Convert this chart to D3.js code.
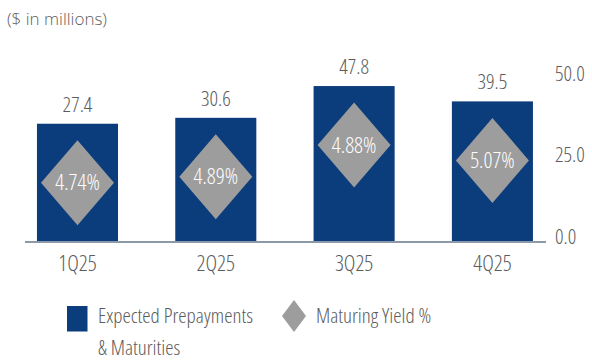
<!DOCTYPE html>
<html>
<head>
<meta charset="utf-8">
<script src="https://cdn.jsdelivr.net/npm/d3@7"></script>
<style>
  html, body { margin: 0; padding: 0; background: #fff; }
  svg { display: block; }
  text { font-family: "Open Sans", sans-serif; font-stretch: 80%; font-weight: 300; }
  text.wide { font-stretch: 100%; }
</style>
</head>
<body>
<svg id="chart" width="592" height="360"></svg>
<script>
// ---- data ----
const categories = ["1Q25", "2Q25", "3Q25", "4Q25"];
const prepayments = [27.4, 30.6, 47.8, 39.5];          // $ in millions
const yieldPct = [4.74, 4.89, 4.88, 5.07];             // maturing yield %
const axisTicks = [0, 25, 50];
const unitsLabel = "($ in millions)";
const legendLabels = [["Expected Prepayments", "& Maturities"], ["Maturing Yield %"]];

// ---- styles ----
const barColor = "#0b3c7b";
const diamondColor = "#9d9d9d";
const textColor = "#5c5c5c";

const svg = d3.select("#chart");

const x = d3.scaleBand()
  .domain(categories)
  .range([9.3, 560.6])
  .paddingInner(0.414)
  .paddingOuter(0.2);

// bar scale (the reference bars are drawn on a truncated value scale)
const yBar = d3.scaleLinear().domain([-36.5, 50]).range([241.7, 82.0]);
// right-hand axis scale
const yAxis = d3.scaleLinear().domain([0, 50]).range([237, 73.5]);

// units label
svg.append("text")
  .attr("class", "wide")
  .attr("x", 7).attr("y", 25)
  .attr("font-size", 17).attr("fill", textColor)
  .text(unitsLabel);

// bars
svg.append("g").selectAll("rect")
  .data(prepayments)
  .join("rect")
  .attr("x", (d, i) => x(categories[i]))
  .attr("width", x.bandwidth())
  .attr("y", d => yBar(d))
  .attr("height", d => yBar.range()[0] - yBar(d))
  .attr("fill", barColor);

// value labels
svg.append("g").selectAll("text")
  .data(prepayments)
  .join("text")
  .attr("x", (d, i) => x(categories[i]) + x.bandwidth() / 2)
  .attr("y", d => yBar(d) - 12)
  .attr("text-anchor", "middle")
  .attr("font-size", 21)
  .attr("fill", textColor)
  .text(d => d.toFixed(1));

// diamonds
const hw = 36.5, hh = 42.5;
const dg = svg.append("g").selectAll("g")
  .data(yieldPct)
  .join("g")
  .attr("transform", (d, i) => `translate(${x(categories[i]) + x.bandwidth() / 2},${yBar(prepayments[i]) + 59})`);
dg.append("path")
  .attr("d", `M0,${-hh}L${hw},0L0,${hh}L${-hw},0Z`)
  .attr("fill", diamondColor);
dg.append("text")
  .attr("y", 7.5)
  .attr("text-anchor", "middle")
  .attr("font-size", 22)
  .attr("fill", "#ffffff")
  .text(d => d.toFixed(2) + "%");

// baseline
svg.append("line")
  .attr("x1", 25).attr("x2", 546)
  .attr("y1", 242).attr("y2", 242)
  .attr("stroke", "#8d98a8").attr("stroke-width", 2);

// category axis labels
const xAxis = d3.axisBottom(x).tickSize(0).tickPadding(0);
const gx = svg.append("g").attr("transform", "translate(0,256)").call(xAxis);
gx.select(".domain").remove();
gx.selectAll("text")
  .attr("font-size", 22).attr("fill", textColor)
  .attr("dy", "0.7em");

// right axis
const yA = d3.axisRight(yAxis).tickValues(axisTicks).tickSize(0).tickPadding(0)
  .tickFormat(d3.format(".1f"));
const gy = svg.append("g").attr("transform", "translate(555,0)").call(yA);
gy.select(".domain").remove();
gy.selectAll("text")
  .attr("font-size", 21).attr("fill", textColor);
svg.selectAll("g").attr("font-family", null).attr("font-size", null);

// legend
const lg = svg.append("g");
lg.append("rect").attr("x", 67).attr("y", 306).attr("width", 20.5).attr("height", 25.5).attr("fill", barColor);
lg.append("text").attr("x", 98).attr("y", 323).attr("font-size", 21).attr("fill", textColor).text(legendLabels[0][0]);
lg.append("text").attr("x", 98).attr("y", 355).attr("font-size", 21).attr("fill", textColor).text(legendLabels[0][1]);
lg.append("path").attr("d", "M294,300L306,316L294,332L282,316Z").attr("fill", diamondColor);
lg.append("text").attr("x", 316).attr("y", 323).attr("font-size", 21).attr("fill", textColor).text(legendLabels[1][0]);
</script>
</body>
</html>
